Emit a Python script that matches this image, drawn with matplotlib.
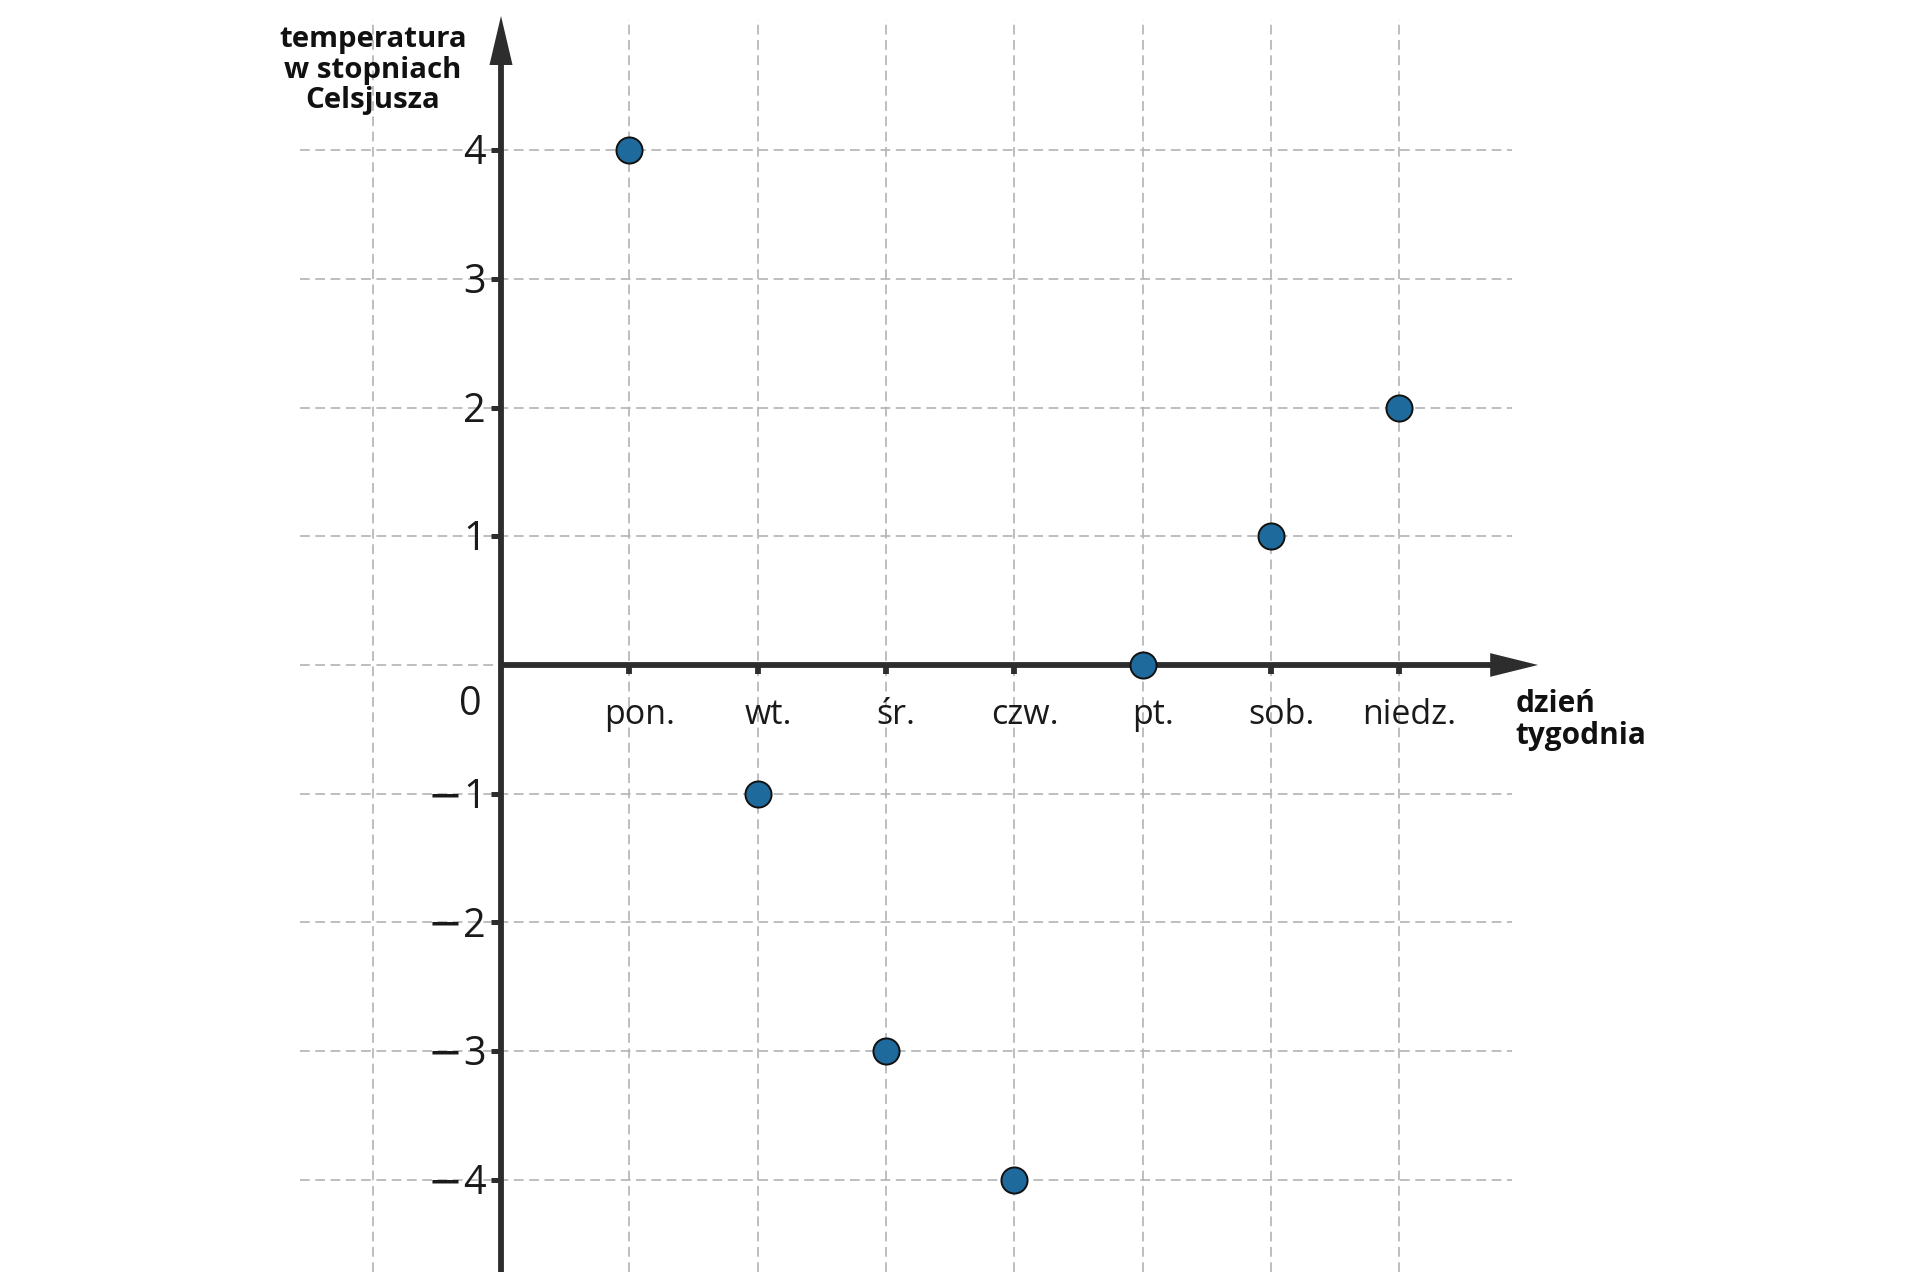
import matplotlib
matplotlib.use("Agg")
import matplotlib.pyplot as plt
from matplotlib.patches import Polygon

plt.rcParams['font.family'] = ['Open Sans', 'DejaVu Sans']
plt.rcParams['lines.scale_dashes'] = False

days = ["pon.", "wt.", "śr.", "czw.", "pt.", "sob.", "niedz."]
temps = [4, -1, -3, -4, 0, 1, 2]
y_ticks = [-4, -3, -2, -1, 1, 2, 3, 4]
x_label = "dzień\ntygodnia"
y_label = "temperatura\nw stopniach\nCelsjusza"

axis_color = "#2d2d2d"
grid_color = "#b3b3b3"
point_color = "#1f6a9c"
text_color = "#1a1a1a"

fig = plt.figure(figsize=(19.2, 12.88), dpi=100)
ax = fig.add_axes([0, 0, 1, 1])
ax.set_xlim(-3.905, 11.06)
ax.set_ylim(-4.841, 5.167)
ax.axis("off")

xs = list(range(1, len(days) + 1))

# grid
for gx in [-1] + xs:
    ax.plot([gx, gx], [-4.716, 5.02], color=grid_color, lw=1.2,
            dashes=(7, 4), zorder=1)
for gy in [-4, -3, -2, -1, 0, 1, 2, 3, 4]:
    ax.plot([-1.567, 7.88], [gy, gy], color=grid_color, lw=1.2,
            dashes=(7, 4), zorder=1)

# axes
ax.plot([0, 0], [-4.716, 4.7], color=axis_color, lw=4.2, zorder=3,
        solid_capstyle="butt")
ax.plot([0, 7.75], [0, 0], color=axis_color, lw=4.2, zorder=3,
        solid_capstyle="butt")
ax.add_patch(Polygon([[-0.09, 4.662], [0.09, 4.662], [0, 5.043]],
                     closed=True, color=axis_color, zorder=3, lw=0))
ax.add_patch(Polygon([[7.71, 0.092], [7.71, -0.092], [8.083, 0]],
                     closed=True, color=axis_color, zorder=3, lw=0))

# y ticks and labels
for t in y_ticks:
    ax.plot([-0.08, 0], [t, t], color=axis_color, lw=3.6, zorder=3,
            solid_capstyle="butt")
    ax.text(-0.12, t - 0.11, str(abs(t)), ha="right", va="baseline",
            fontsize=28.5, color=text_color, zorder=4)
    if t < 0:
        ax.text(-0.298, t - 0.113, "\u2212", ha="right", va="baseline",
                fontsize=30, family=["DejaVu Sans"], color=text_color,
                zorder=4)

# x ticks and labels
for x, d in zip(xs, days):
    ax.plot([x, x], [0, -0.07], color=axis_color, lw=4.2, zorder=3,
            solid_capstyle="butt")
    ax.text(x + 0.08, -0.39, d, ha="center", va="center", fontsize=24.5,
            color=text_color, zorder=4)
ax.text(-0.24, -0.31, "0", ha="center", va="center", fontsize=28.5,
        color=text_color, zorder=4)

# axis titles
ax.text(-1.0, 4.97, y_label, ha="center", va="top", fontsize=21.2,
        fontweight="bold", linespacing=1.07, color="#111111")
ax.text(7.91, -0.19, x_label, ha="left", va="top", fontsize=21.4,
        fontweight="bold", linespacing=1.05, color="#111111")

# data
ax.plot(xs, temps, linestyle="none", marker="o", markersize=18.8,
        markerfacecolor=point_color, markeredgecolor="#111111",
        markeredgewidth=1.4, zorder=5)

fig.savefig("out.png", dpi=100, facecolor="white")
